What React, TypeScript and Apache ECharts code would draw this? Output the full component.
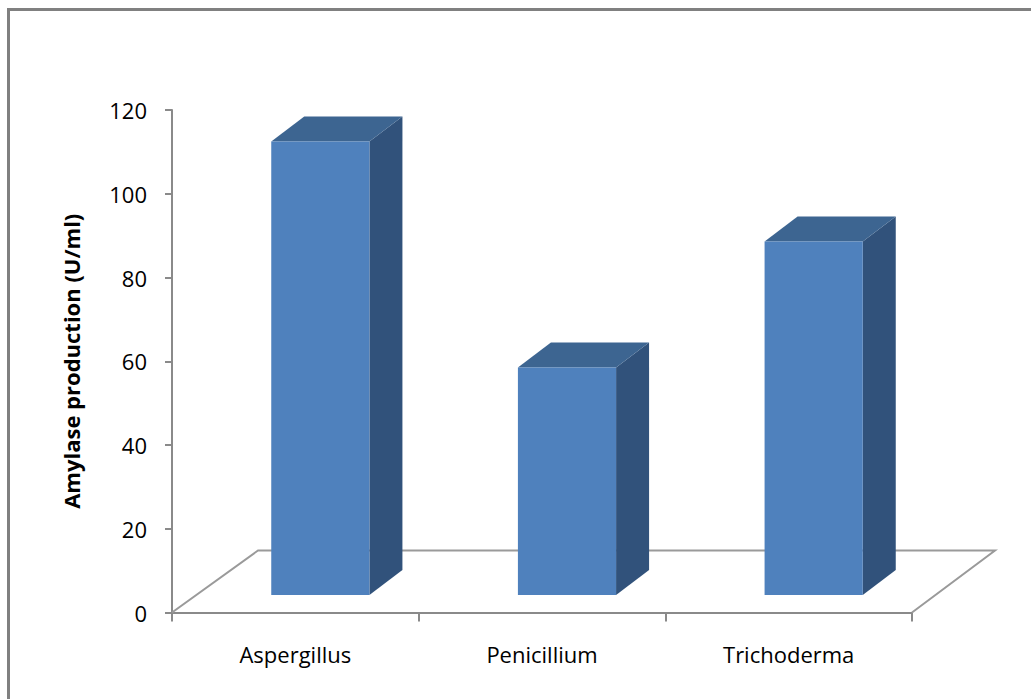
import React, { useEffect, useRef } from "react";
import * as echarts from "echarts";

const categories = ["Aspergillus", "Penicillium", "Trichoderma"];
const amylaseValues = [108.3, 54.3, 84.4];
const yAxisTitle = "Amylase production (U/ml)";
const yMin = 0;
const yMax = 120;
const yStep = 20;

const FONT = "'Open Sans', 'Liberation Sans', sans-serif";

export default function App() {
  const ref = useRef<HTMLDivElement>(null);
  useEffect(() => {
    if (!ref.current) return;
    const chart = echarts.init(ref.current, null, { renderer: "svg" });
    const FLOOR_DX_LEFT = 86;
    const FLOOR_DX_RIGHT = 83;
    const FLOOR_DY = -62;
    const BAR_OX = 25;
    const BAR_OY = -17.5;
    const DEPTH_DX = 33;
    const DEPTH_DY = -25;
    chart.setOption({
      animation: false,
      backgroundColor: "#ffffff",
      textStyle: { fontFamily: FONT },
      grid: { left: 172, right: 119, top: 110, bottom: 86.5, containLabel: false },
      graphic: [
        {
          type: "rect",
          shape: { x: 8.5, y: 9.5, width: 1200, height: 900 },
          style: { fill: "none", stroke: "#808080", lineWidth: 3 },
          silent: true,
          z: 100,
        },
      ],
      xAxis: {
        type: "category",
        data: categories,
        boundaryGap: true,
        axisLine: { show: true, lineStyle: { color: "#8a8a8a", width: 2 } },
        axisTick: { show: true, length: 9, lineStyle: { color: "#8a8a8a", width: 2 } },
        axisLabel: { color: "#000", fontSize: 22, margin: 30, fontFamily: FONT },
        splitLine: { show: false },
      },
      yAxis: {
        type: "value",
        min: yMin,
        max: yMax,
        interval: yStep,
        name: yAxisTitle,
        nameLocation: "middle",
        nameRotate: 90,
        nameGap: 90,
        nameTextStyle: { color: "#000", fontSize: 22, fontWeight: "bold", fontFamily: FONT },
        axisLine: { show: true, lineStyle: { color: "#8a8a8a", width: 2 } },
        axisTick: { show: true, length: 7, inside: false, lineStyle: { color: "#8a8a8a", width: 2 } },
        axisLabel: { color: "#000", fontSize: 22, margin: 25, fontFamily: FONT },
        splitLine: { show: false },
      },
      series: [
        {
          type: "custom",
          name: "floor",
          clip: false,
          z: 1,
          data: [[0, 0]],
          renderItem: (params: any, api: any) => {
            const band = api.size([1, 0])[0];
            const first = api.coord([0, 0]);
            const last = api.coord([categories.length - 1, 0]);
            const xl = first[0] - band / 2;
            const xr = last[0] + band / 2;
            const y0 = first[1];
            return {
              type: "polyline",
              shape: {
                points: [
                  [xl, y0],
                  [xl + FLOOR_DX_LEFT, y0 + FLOOR_DY],
                  [xr + FLOOR_DX_RIGHT, y0 + FLOOR_DY],
                  [xr, y0],
                ],
              },
              style: { fill: "none", stroke: "#9a9a9a", lineWidth: 2 },
            };
          },
        },
        {
          type: "custom",
          name: "Amylase",
          clip: false,
          z: 2,
          data: amylaseValues.map((v, i) => [i, v]),
          renderItem: (params: any, api: any) => {
            const idx = api.value(0);
            const val = api.value(1);
            const base = api.coord([idx, 0]);
            const top = api.coord([idx, val]);
            const band = api.size([1, 0])[0];
            const w = band * 0.398;
            const x0 = base[0] - w / 2 + BAR_OX;
            const x1 = x0 + w;
            const yb = base[1] + BAR_OY;
            const yt = top[1] + BAR_OY;
            return {
              type: "group",
              children: [
                {
                  type: "polygon",
                  shape: {
                    points: [
                      [x1, yt],
                      [x1 + DEPTH_DX, yt + DEPTH_DY],
                      [x1 + DEPTH_DX, yb + DEPTH_DY],
                      [x1, yb],
                    ],
                  },
                  style: { fill: "#31527b" },
                },
                {
                  type: "polygon",
                  shape: {
                    points: [
                      [x0, yt],
                      [x0 + DEPTH_DX, yt + DEPTH_DY],
                      [x1 + DEPTH_DX, yt + DEPTH_DY],
                      [x1, yt],
                    ],
                  },
                  style: { fill: "#3d6591" },
                },
                {
                  type: "rect",
                  shape: { x: x0, y: yt, width: w, height: yb - yt },
                  style: { fill: "#4f81bd" },
                },
              ],
            };
          },
        },
      ],
    });
    return () => chart.dispose();
  }, []);
  return (
    <div
      ref={ref}
      style={{ position: "fixed", left: 0, top: 0, width: 1031, height: 699 }}
    />
  );
}
